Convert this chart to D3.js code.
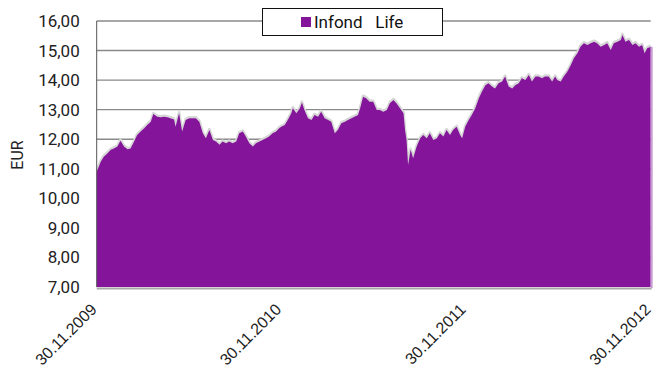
<!DOCTYPE html>
<html>
<head>
<meta charset="utf-8">
<script src="https://cdn.jsdelivr.net/npm/d3@7"></script>
<style>
  html, body { margin: 0; padding: 0; background: #fff; }
  svg { display: block; font-family: Roboto, "DejaVu Sans", sans-serif; }
</style>
</head>
<body>
<svg id="chart" width="653" height="371"></svg>
<script>
// Infond Life – unit value in EUR, 30.11.2009 – 30.11.2012
const seriesName = "Infond   Life";
const dates = [
  "2009-11-30","2009-12-08","2009-12-14","2009-12-21","2009-12-28","2010-01-03","2010-01-10","2010-01-16",
  "2010-01-23","2010-01-30","2010-02-05","2010-02-12","2010-02-18","2010-02-25","2010-03-04","2010-03-10",
  "2010-03-17","2010-03-22","2010-03-30","2010-04-06","2010-04-12","2010-04-19","2010-04-25","2010-05-02",
  "2010-05-05","2010-05-12","2010-05-18","2010-05-25","2010-06-01","2010-06-14","2010-06-21","2010-06-28",
  "2010-07-04","2010-07-11","2010-07-18","2010-07-24","2010-07-31","2010-08-06","2010-08-13","2010-08-19",
  "2010-08-26","2010-09-02","2010-09-08","2010-09-15","2010-09-21","2010-09-28","2010-10-05","2010-10-11",
  "2010-10-18","2010-10-24","2010-10-31","2010-11-06","2010-11-13","2010-11-20","2010-11-26","2010-11-30",
  "2010-12-07","2010-12-13","2010-12-20","2010-12-23","2010-12-30","2011-01-06","2011-01-10","2011-01-15",
  "2011-01-22","2011-01-29","2011-02-04","2011-02-11","2011-02-17","2011-02-24","2011-03-03","2011-03-09",
  "2011-03-16","2011-03-22","2011-03-29","2011-04-05","2011-04-11","2011-04-18","2011-04-24","2011-05-01",
  "2011-05-06","2011-05-11","2011-05-17","2011-05-24","2011-05-31","2011-06-07","2011-06-13","2011-06-20",
  "2011-06-27","2011-07-03","2011-07-10","2011-07-16","2011-07-23","2011-07-30","2011-08-02","2011-08-05",
  "2011-08-08","2011-08-13","2011-08-18","2011-08-25","2011-09-01","2011-09-07","2011-09-14","2011-09-20",
  "2011-09-27","2011-10-04","2011-10-10","2011-10-17","2011-10-23","2011-10-30","2011-11-05","2011-11-12",
  "2011-11-19","2011-11-23","2011-11-29","2011-12-06","2011-12-12","2011-12-19","2011-12-26","2012-01-01",
  "2012-01-08","2012-01-14","2012-01-21","2012-01-27","2012-02-03","2012-02-10","2012-02-16","2012-02-23",
  "2012-03-01","2012-03-07","2012-03-14","2012-03-20","2012-03-27","2012-04-03","2012-04-09","2012-04-16",
  "2012-04-22","2012-04-29","2012-05-05","2012-05-12","2012-05-19","2012-05-25","2012-05-29","2012-06-05",
  "2012-06-11","2012-06-18","2012-06-25","2012-07-01","2012-07-08","2012-07-14","2012-07-21","2012-07-28",
  "2012-08-03","2012-08-10","2012-08-16","2012-08-23","2012-08-30","2012-09-05","2012-09-12","2012-09-18",
  "2012-09-25","2012-10-02","2012-10-05","2012-10-11","2012-10-18","2012-10-25","2012-10-31","2012-11-07",
  "2012-11-13","2012-11-18","2012-11-23","2012-11-30"
];
const values = [
  10.90,11.24,11.41,11.52,11.64,11.69,11.75,11.95,
  11.75,11.66,11.69,11.92,12.14,12.26,12.37,12.48,
  12.59,12.85,12.76,12.74,12.76,12.74,12.71,12.67,
  12.42,12.88,12.26,12.65,12.71,12.71,12.59,12.20,
  12.03,12.31,11.97,11.92,11.81,11.92,11.86,11.92,
  11.86,11.92,12.20,12.26,12.09,11.86,11.75,11.86,
  11.92,11.97,12.03,12.09,12.20,12.26,12.37,12.42,
  12.48,12.65,12.88,13.05,12.88,13.05,13.24,12.99,
  12.71,12.65,12.82,12.76,12.93,12.71,12.65,12.59,
  12.20,12.31,12.54,12.59,12.65,12.71,12.76,12.82,
  13.10,13.44,13.39,13.27,13.27,12.99,12.99,12.93,
  12.99,13.22,13.33,13.22,13.05,12.88,12.31,11.97,
  11.13,11.64,11.36,11.75,12.03,12.14,12.03,12.20,
  11.97,12.03,12.20,12.09,12.31,12.14,12.31,12.42,
  12.14,12.03,12.42,12.65,12.82,13.05,13.39,13.61,
  13.83,13.89,13.78,13.72,13.89,13.95,14.12,13.78,
  13.72,13.83,13.89,14.06,14.00,14.17,13.95,14.12,
  14.12,14.06,14.12,14.12,13.95,14.12,14.00,13.95,
  14.12,14.28,14.51,14.74,14.91,15.13,15.25,15.19,
  15.25,15.30,15.25,15.13,15.19,15.25,15.02,15.25,
  15.30,15.36,15.53,15.30,15.36,15.19,15.25,15.13,
  15.19,14.91,15.08,15.13
];
const yTicks = [7, 8, 9, 10, 11, 12, 13, 14, 15, 16];
const xTickLabels = ["30.11.2009", "30.11.2010", "30.11.2011", "30.11.2012"];

const parse = d3.timeParse("%Y-%m-%d");
const tickParse = d3.timeParse("%d.%m.%Y");
const data = dates.map((d, i) => ({ date: parse(d), value: values[i] }));

const svg = d3.select("#chart");
const plotLeft = 96.7, plotRight = 650.7, plotTop = 21, plotBottom = 287;

const x = d3.scaleTime()
  .domain([parse(dates[0]), parse(dates[dates.length - 1])])
  .range([plotLeft, plotRight]);
const y = d3.scaleLinear().domain([7, 16]).range([plotBottom, plotTop]);

const purple = "#84159a";

// horizontal gridlines
svg.append("g").selectAll("line")
  .data(yTicks.filter(t => t > 7))
  .join("line")
  .attr("x1", plotLeft).attr("x2", plotRight)
  .attr("y1", d => y(d)).attr("y2", d => y(d))
  .attr("stroke", "#8a8a8a").attr("stroke-width", 1.4);

// soft grey shadow under the baseline
svg.append("line")
  .attr("x1", plotLeft).attr("x2", plotRight + 1)
  .attr("y1", plotBottom + 1.5).attr("y2", plotBottom + 1.5)
  .attr("stroke", "#a8a8a8").attr("stroke-width", 2);

// light halo along the top edge of the area
const line = d3.line().x(d => x(d.date)).y(d => y(d.value));
svg.append("path")
  .datum(data)
  .attr("d", line)
  .attr("transform", "translate(0,-1)")
  .attr("fill", "none")
  .attr("stroke", "#d6d6d6")
  .attr("stroke-width", 2.5)
  .attr("stroke-linejoin", "round");

// area
const area = d3.area()
  .x(d => x(d.date))
  .y0(plotBottom)
  .y1(d => y(d.value));
svg.append("path")
  .datum(data)
  .attr("d", area)
  .attr("fill", purple);

// light side edge on the right of the area
const last = data[data.length - 1];
svg.append("line")
  .attr("x1", x(last.date) + 1).attr("x2", x(last.date) + 1)
  .attr("y1", y(last.value)).attr("y2", plotBottom + 1)
  .attr("stroke", "#c99dd3").attr("stroke-width", 2);

// left axis line
svg.append("line")
  .attr("x1", plotLeft).attr("x2", plotLeft)
  .attr("y1", plotTop).attr("y2", plotBottom)
  .attr("stroke", "#555").attr("stroke-width", 1);

// y axis
const yAxis = d3.axisLeft(y)
  .tickValues(yTicks)
  .tickSize(0)
  .tickPadding(17)
  .tickFormat(d => d3.format(".2f")(d).replace(".", ","));
const gy = svg.append("g")
  .attr("transform", `translate(${plotLeft},0)`)
  .call(yAxis);
gy.select(".domain").remove();
gy.selectAll("text")
  .attr("font-size", 17)
  .attr("font-family", "Roboto, sans-serif")
  .attr("fill", "#222");

// y axis title
svg.append("text")
  .attr("transform", "translate(23,155) rotate(-90)")
  .attr("text-anchor", "middle")
  .attr("font-size", 16)
  .attr("fill", "#222")
  .text("EUR");

// x axis labels, rotated
const xAxis = d3.axisBottom(x)
  .tickValues(xTickLabels.map(t => tickParse(t)))
  .tickSize(0)
  .tickFormat(d3.timeFormat("%d.%m.%Y"));
const gx = svg.append("g")
  .attr("transform", `translate(0,${plotBottom})`)
  .call(xAxis);
gx.select(".domain").remove();
gx.selectAll("text")
  .attr("font-size", 16)
  .attr("fill", "#222")
  .attr("text-anchor", "end")
  .attr("dy", null)
  .attr("y", 0)
  .attr("transform", "translate(0.5,23.5) rotate(-45)");

// legend
const legend = svg.append("g");
legend.append("rect")
  .attr("x", 262.5).attr("y", 8.5)
  .attr("width", 180).attr("height", 27)
  .attr("fill", "#fff").attr("stroke", "#111").attr("stroke-width", 1);
legend.append("rect")
  .attr("x", 301).attr("y", 17)
  .attr("width", 10).attr("height", 10)
  .attr("fill", purple);
legend.append("text")
  .attr("x", 314).attr("y", 28)
  .attr("font-size", 17)
  .attr("fill", "#111")
  .style("white-space", "pre")
  .text(seriesName);
</script>
</body>
</html>
